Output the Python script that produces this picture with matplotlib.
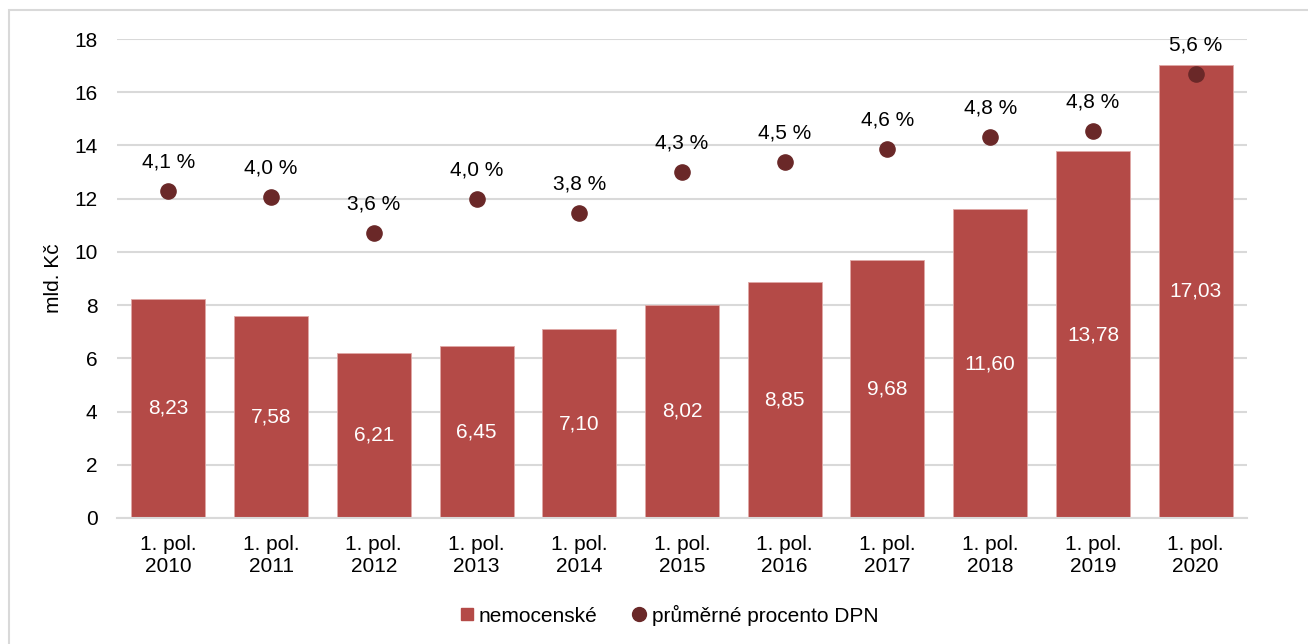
import matplotlib.pyplot as plt
from matplotlib.patches import Rectangle
from matplotlib.lines import Line2D

plt.rcParams['font.family'] = ['Liberation Sans', 'DejaVu Sans']

years = ['2010', '2011', '2012', '2013', '2014', '2015', '2016', '2017', '2018', '2019', '2020']
nemocenske = [8.23, 7.58, 6.21, 6.45, 7.10, 8.02, 8.85, 9.68, 11.60, 13.78, 17.03]
dpn_pct = [4.10, 4.02, 3.57, 4.00, 3.82, 4.33, 4.46, 4.62, 4.77, 4.85, 5.56]
labels = ['1. pol.\n' + y for y in years]

bar_color = '#B44A47'
dot_color = '#6A2828'
grid_color = '#D9D9D9'
fs = 15

fig = plt.figure(figsize=(13.08, 6.44), dpi=100)
ax = fig.add_axes([0.0894, 0.1957, 0.8640, 0.7437])
x = list(range(len(years)))

ax.bar(x, nemocenske, width=0.72, color=bar_color, edgecolor='#E0A8A6', linewidth=0.6, zorder=2)
for xi, v in zip(x, nemocenske):
    ax.text(xi, v / 2, f"{v:.2f}".replace('.', ','), ha='center', va='center',
            color='white', fontsize=fs, zorder=3)

ax.set_xlim(-0.5, len(years) - 0.5)
ax.set_ylim(0, 18)
ax.set_yticks(range(0, 19, 2))
ax.set_xticks(x)
ax.set_xticklabels(labels, fontsize=fs, linespacing=1.25)
ax.tick_params(axis='y', labelsize=fs, length=0, pad=14)
ax.tick_params(axis='x', length=0, pad=12)
ax.yaxis.grid(True, color=grid_color, linewidth=1.5, zorder=0)
ax.set_axisbelow(True)
for s in ['top', 'right', 'left']:
    ax.spines[s].set_visible(False)
ax.spines['bottom'].set_color(grid_color)
ax.spines['bottom'].set_linewidth(1.5)
ax.set_ylabel('mld. Kč', fontsize=fs, labelpad=8)

# percentages on hidden secondary axis
ax2 = ax.twinx()
ax2.set_ylim(0, 6)
ax2.axis('off')
ax2.scatter(x, dpn_pct, s=120, color=dot_color, zorder=4)
for xi, p in zip(x, dpn_pct):
    ax2.annotate(f"{p:.1f}".replace('.', ',') + ' %', (xi, p), xytext=(0, 21),
                 textcoords='offset points', ha='center', va='center', fontsize=fs)

handles = [Line2D([], [], marker='s', color=bar_color, linestyle='none', markersize=9),
           Line2D([], [], marker='o', color=dot_color, linestyle='none', markersize=10)]
fig.legend(handles, ['nemocenské', 'průměrné procento DPN'], loc='center',
           bbox_to_anchor=(0.511, 0.045), ncol=2, frameon=False, fontsize=fs,
           handlelength=0.8, handletextpad=0.2, columnspacing=1.6)

fig.patches.append(Rectangle((9 / 1308, -0.1), 1.2, 1 - 10 / 644 + 0.1,
                             transform=fig.transFigure, fill=False,
                             edgecolor='#D9D9D9', linewidth=1.5))

fig.savefig('out.png', dpi=100)
